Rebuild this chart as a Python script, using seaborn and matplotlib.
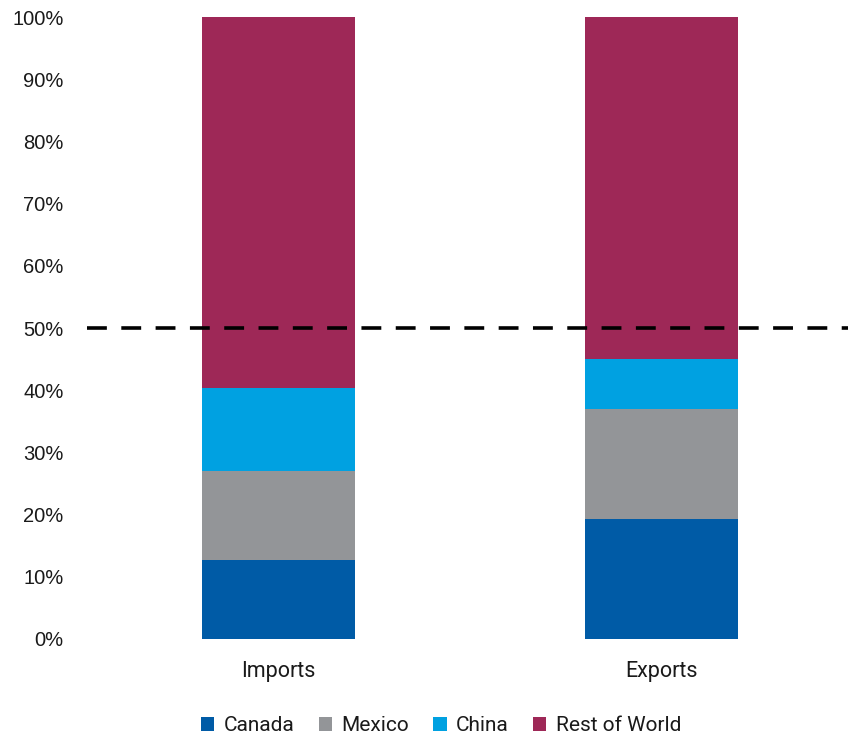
import matplotlib
matplotlib.use("Agg")
import matplotlib.pyplot as plt
import seaborn as sns
import pandas as pd
import numpy as np

# Share of trade by partner (percent)
flows = ["Imports", "Exports"]
canada = [12.7, 19.3]
mexico = [14.3, 17.7]
china = [13.4, 8.1]
rest_of_world = [59.6, 54.9]

series_names = ["Canada", "Mexico", "China", "Rest of World"]
series_values = [canada, mexico, china, rest_of_world]
series_colors = ["#005BA6", "#939598", "#00A1E1", "#9E2857"]

sns.set_theme(style="white")

fig = plt.figure(figsize=(8.48, 7.35), dpi=100)
ax = fig.add_axes([87 / 848, 96 / 735, 1 - 87 / 848, (639 - 17.3) / 735])

# Stack bars by drawing cumulative totals from the top series down
cumulative = np.cumsum(np.array(series_values), axis=0)
for name, totals, color in reversed(list(zip(series_names, cumulative, series_colors))):
    df = pd.DataFrame({"flow": flows, "value": totals})
    sns.barplot(data=df, x="flow", y="value", color=color, width=0.4,
                saturation=1, ax=ax, label=name, linewidth=0)

ax.axhline(50, color="black", linestyle=(0, (5.5, 4)), linewidth=2.6)

ax.set_xlim(-0.5, 1 + (848 - 661.5) / 383)
ax.set_ylim(0, 100)
ax.set_yticks(np.arange(0, 101, 10))
ax.set_yticklabels([f"{v}%" for v in range(0, 101, 10)],
                   fontfamily="Liberation Sans", fontsize=14.5, color="#1a1a1a")
ax.set_xticks([0, 1])
ax.set_xticklabels(flows, fontfamily="Roboto", fontsize=15.5, color="#1a1a1a")
ax.tick_params(axis="y", length=0, pad=17)
ax.tick_params(axis="x", length=0, pad=16)
ax.set_xlabel("")
ax.set_ylabel("")
for s in ax.spines.values():
    s.set_visible(False)

handles, labels = ax.get_legend_handles_labels()
if ax.get_legend() is not None:
    ax.get_legend().remove()
order = [labels.index(n) for n in series_names]
leg = fig.legend([handles[i] for i in order], [labels[i] for i in order],
                 loc="center", bbox_to_anchor=(441 / 848, 1 - 725.5 / 735),
                 ncol=4, frameon=False, handlelength=0.65, handleheight=0.65,
                 handletextpad=0.45, columnspacing=1.15,
                 prop={"family": "Roboto", "size": 15})
for t in leg.get_texts():
    t.set_color("#1a1a1a")

fig.savefig("out.png", dpi=100)
